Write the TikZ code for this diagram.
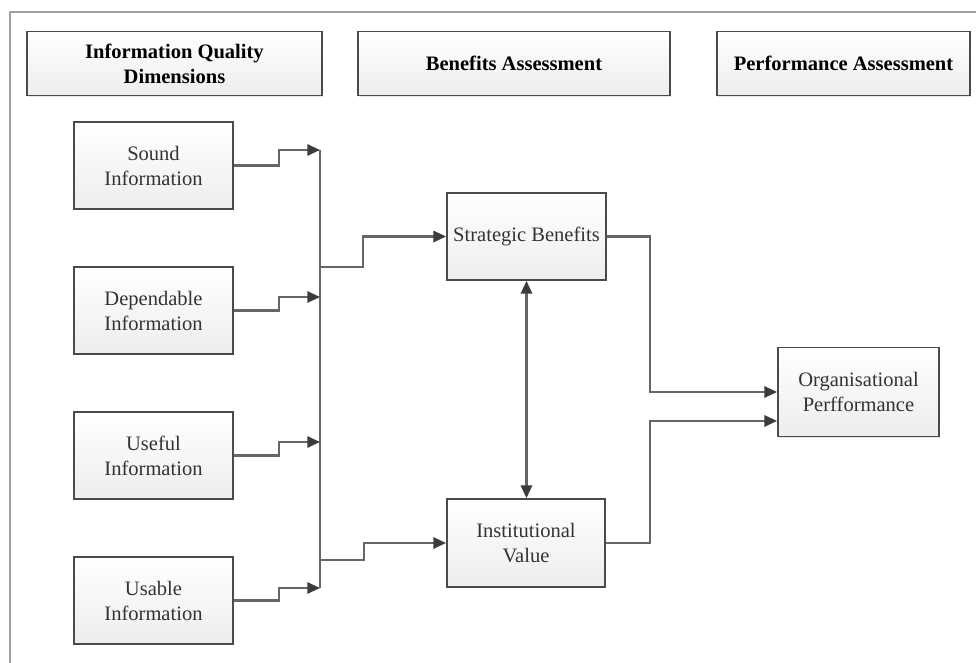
\documentclass[tikz,border=0pt]{standalone}
\usepackage{fontspec}
\setmainfont{Liberation Serif}
\usetikzlibrary{arrows.meta,shadows}

\definecolor{boxline}{HTML}{4A4A4A}
\definecolor{wire}{HTML}{666666}
\definecolor{tipcol}{HTML}{3C3C3C}
\definecolor{frameline}{HTML}{A0A0A0}

\begin{document}
\begin{tikzpicture}[x=0.025cm,y=-0.025cm,
    box/.style={draw=boxline, line width=1.3pt, top color=white, bottom color=gray!14,
        drop shadow={opacity=0.2, shadow xshift=1pt, shadow yshift=-1pt},
        align=center, text=black!80, inner sep=2pt,
        font=\fontsize{14.6}{17.8}\selectfont},
    headbox/.style={box, minimum height=1.6cm, text=black, font=\fontsize{14.6}{17.8}\selectfont\bfseries},
    infobox/.style={box, minimum width=3.975cm, minimum height=2.175cm},
    wireline/.style={draw=wire, line width=1.5pt},
    link/.style={wireline, -{Triangle[length=9pt,width=8pt,color=tipcol]}},
    twolink/.style={wireline, {Triangle[length=9pt,width=8pt,color=tipcol]}-{Triangle[length=9pt,width=8pt,color=tipcol]}}]
    \useasboundingbox (0,0) rectangle (976,663);

    % outer frame
    \draw[frameline, line width=1.6pt] (10,670) -- (10,12) -- (990,12);

    % column headers
    \node[headbox, minimum width=7.375cm] (hIQ) at (174.5,63.5) {Information Quality\\Dimensions};
    \node[headbox, minimum width=7.8cm] (hBA) at (514,63.5) {Benefits Assessment};
    \node[headbox, minimum width=6.325cm] (hPA) at (843.5,63.5) {Performance Assessment};

    % quality dimensions
    \node[infobox] (sound) at (153.5,165.5) {Sound\\Information};
    \node[infobox] (depend) at (153.5,310.5) {Dependable\\Information};
    \node[infobox] (useful) at (153.5,455.5) {Useful\\Information};
    \node[infobox] (usable) at (153.5,600.5) {Usable\\Information};

    % benefits and performance
    \node[infobox] (strat) at (526.5,236.5) {Strategic Benefits};
    \node[box, minimum width=3.95cm, minimum height=2.2cm] (inst) at (526,543) {Institutional\\Value};
    \node[box, minimum width=4.025cm, minimum height=2.225cm] (org) at (858.5,392) {Organisational\\Perfformance};

    % collecting bus
    \coordinate (bus1) at (320,150);
    \coordinate (bus2) at (320,297);
    \coordinate (bus3) at (320,442);
    \coordinate (bus4) at (320,588);
    \coordinate (tapA) at (320,267);
    \coordinate (tapB) at (320,560);

    \draw[wireline] (bus1) -- (bus4);
    \draw[link] (sound.east) -- ++(45,0) |- (bus1);
    \draw[link] (depend.east) -- ++(45,0) |- (bus2);
    \draw[link] (useful.east) -- ++(45,0) |- (bus3);
    \draw[link] (usable.east) -- ++(45,0) |- (bus4);

    \draw[link] (tapA) -- ++(43,0) |- (strat.west);
    \draw[link] (tapB) -- ++(44,0) |- (inst.west);

    \draw[twolink] (strat.south) -- (strat.south |- inst.north);

    \draw[link] (strat.east) -- ++(43,0) |- (org.west);
    \draw[link] (inst.east) -- ++(44,0) |- ([yshift=-20.6pt]org.west);
\end{tikzpicture}
\end{document}
